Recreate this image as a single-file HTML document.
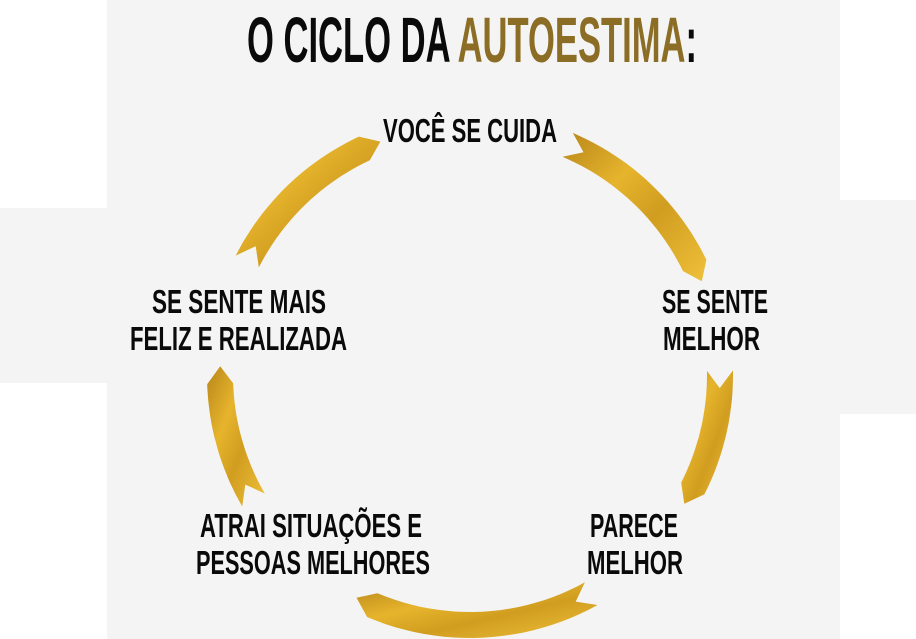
<!DOCTYPE html>
<html><head><meta charset="utf-8"><style>
html,body{margin:0;padding:0;background:#fff;}
svg{display:block;}
text{font-family:"Liberation Sans Narrow","Liberation Sans",sans-serif;font-weight:bold;fill:#0a0a0a;}
</style></head><body>
<svg id="s" width="916" height="639" viewBox="0 0 916 639" xmlns="http://www.w3.org/2000/svg">
<defs>
<linearGradient id="g" x1="0" y1="0" x2="1" y2="1">
<stop offset="0" stop-color="#b8861a"/>
<stop offset="0.35" stop-color="#e6b42c"/>
<stop offset="0.6" stop-color="#d19d20"/>
<stop offset="1" stop-color="#efc13a"/>
</linearGradient>
</defs>
<rect x="0" y="0" width="916" height="639" fill="#fff"/>
<rect x="107" y="0" width="733" height="639" fill="#f4f4f4"/>
<rect x="0" y="208" width="107" height="175" fill="#f4f4f4"/>
<rect x="840" y="200" width="76" height="214" fill="#f4f4f4"/>
<g id="rib" fill="url(#g)"></g>
<text x="247" y="62" font-size="64" textLength="450" lengthAdjust="spacingAndGlyphs">O CICLO DA <tspan fill="#8c6d25">AUTOESTIMA</tspan>:</text>
<text x="383" y="142" font-size="33" textLength="174" lengthAdjust="spacingAndGlyphs">VOCÊ SE CUIDA</text>
<text x="662" y="313" font-size="33" textLength="106" lengthAdjust="spacingAndGlyphs">SE SENTE</text>
<text x="663" y="350" font-size="33" textLength="97" lengthAdjust="spacingAndGlyphs">MELHOR</text>
<text x="152" y="313" font-size="33" textLength="174" lengthAdjust="spacingAndGlyphs">SE SENTE MAIS</text>
<text x="130" y="350" font-size="33" textLength="217" lengthAdjust="spacingAndGlyphs">FELIZ E REALIZADA</text>
<text x="200" y="537" font-size="33" textLength="222" lengthAdjust="spacingAndGlyphs">ATRAI SITUAÇÕES E</text>
<text x="196" y="574" font-size="33" textLength="234" lengthAdjust="spacingAndGlyphs">PESSOAS MELHORES</text>
<text x="590" y="537" font-size="33" textLength="88" lengthAdjust="spacingAndGlyphs">PARECE</text>
<text x="587" y="574" font-size="33" textLength="96" lengthAdjust="spacingAndGlyphs">MELHOR</text>
</svg>
<script>
(function(){
var cx=470,cy=375,r=250,w=26,g=document.getElementById('rib');
function p(a,rr){var t=a*Math.PI/180;return (cx+rr*Math.cos(t)).toFixed(1)+','+(cy+rr*Math.sin(t)).toFixed(1);}
function rib(a1,a2){
 var pts=[],n=24,i,a,e=a2-4;
 for(i=0;i<=n;i++){a=a1+(e-a1)*i/n;pts.push(p(a,r+w/2));}
 pts.push(p(a2,r));
 for(i=n;i>=0;i--){a=a1+(e-a1)*i/n;pts.push(p(a,r-w/2));}
 pts.push(p(a1+4,r));
 var el=document.createElementNS('http://www.w3.org/2000/svg','polygon');
 el.setAttribute('points',pts.join(' '));g.appendChild(el);
}
rib(-67,-22);rib(-1,31);rib(61,117);rib(150,182);rib(207,249);
})();
</script>
</body></html>
